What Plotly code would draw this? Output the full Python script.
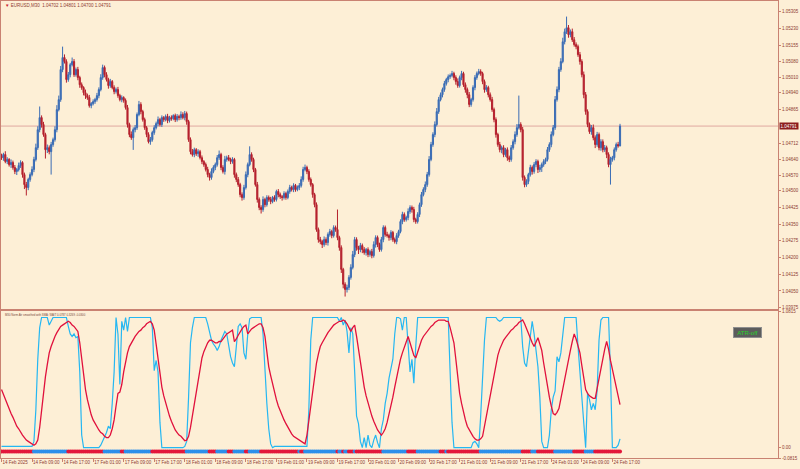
import plotly.graph_objects as go

# ---------------- DATA ----------------
first_open = 1.04655
closes = [
    1.04649, 1.04663, 1.04632, 1.04641, 1.04618, 1.04627, 1.04605, 1.04587, 1.04596, 1.04614, 1.04627, 1.04573, 1.04528, 1.04515, 1.04551, 1.04573, 1.04596, 1.04641, 1.04694, 1.04775, 1.04829, 1.04798, 1.04753, 1.04685, 1.04694,
    1.04676, 1.04708, 1.04730, 1.04775, 1.04865, 1.04910, 1.05045, 1.05099, 1.05081, 1.05000, 1.05022, 1.05067, 1.05081, 1.05022, 1.05045, 1.05009, 1.04977, 1.04964, 1.04941, 1.04928, 1.04919, 1.04883, 1.04892, 1.04901, 1.04910,
    1.04928, 1.04955, 1.05009, 1.05054, 1.05022, 1.05000, 1.04973, 1.04991, 1.04964, 1.04946, 1.04955, 1.04928, 1.04910, 1.04919, 1.04906, 1.04874, 1.04798, 1.04753, 1.04739, 1.04775, 1.04784, 1.04843, 1.04888, 1.04856, 1.04820,
    1.04784, 1.04753, 1.04721, 1.04730, 1.04762, 1.04784, 1.04802, 1.04820, 1.04798, 1.04829, 1.04820, 1.04834, 1.04816, 1.04829, 1.04825, 1.04838, 1.04820, 1.04834, 1.04829, 1.04843, 1.04829, 1.04847, 1.04811, 1.04730, 1.04676,
    1.04663, 1.04685, 1.04667, 1.04676, 1.04649, 1.04632, 1.04618, 1.04596, 1.04573, 1.04560, 1.04587, 1.04605, 1.04618, 1.04649, 1.04663, 1.04605, 1.04587, 1.04641, 1.04649, 1.04641, 1.04632, 1.04641, 1.04573, 1.04551, 1.04528,
    1.04483, 1.04470, 1.04515, 1.04573, 1.04618, 1.04663, 1.04641, 1.04596, 1.04528, 1.04461, 1.04425, 1.04416, 1.04461, 1.04438, 1.04470, 1.04461, 1.04452, 1.04470, 1.04461, 1.04497, 1.04483, 1.04474, 1.04470, 1.04488, 1.04470,
    1.04497, 1.04515, 1.04506, 1.04524, 1.04506, 1.04515, 1.04524, 1.04551, 1.04596, 1.04605, 1.04587, 1.04551, 1.04528, 1.04483, 1.04438, 1.04326, 1.04281, 1.04272, 1.04259, 1.04281, 1.04268, 1.04304, 1.04317, 1.04299, 1.04335,
    1.04326, 1.04290, 1.04245, 1.04147, 1.04080, 1.04057, 1.04066, 1.04111, 1.04156, 1.04214, 1.04281, 1.04245, 1.04236, 1.04254, 1.04236, 1.04223, 1.04236, 1.04214, 1.04227, 1.04209, 1.04259, 1.04290, 1.04259, 1.04236, 1.04281,
    1.04335, 1.04304, 1.04299, 1.04290, 1.04313, 1.04281, 1.04272, 1.04299, 1.04317, 1.04362, 1.04394, 1.04371, 1.04380, 1.04407, 1.04425, 1.04416, 1.04371, 1.04362, 1.04394, 1.04438, 1.04483, 1.04506, 1.04528, 1.04573, 1.04641,
    1.04708, 1.04753, 1.04798, 1.04856, 1.04910, 1.04932, 1.04955, 1.04982, 1.05000, 1.05013, 1.05018, 1.05027, 1.05009, 1.04991, 1.04973, 1.05009, 1.05027, 1.04977, 1.04955, 1.04932, 1.04888, 1.04910, 1.04964, 1.05009, 1.05027,
    1.05036, 1.05027, 1.04991, 1.04955, 1.04964, 1.04932, 1.04910, 1.04865, 1.04820, 1.04753, 1.04708, 1.04685, 1.04694, 1.04663, 1.04685, 1.04649, 1.04641, 1.04694, 1.04721, 1.04753, 1.04784, 1.04798, 1.04775, 1.04560, 1.04528,
    1.04542, 1.04573, 1.04605, 1.04587, 1.04618, 1.04632, 1.04596, 1.04605, 1.04618, 1.04632, 1.04641, 1.04685, 1.04708, 1.04753, 1.04784, 1.04910, 1.04955, 1.05045, 1.05081, 1.05170, 1.05215, 1.05233, 1.05202, 1.05215, 1.05179,
    1.05157, 1.05148, 1.05112, 1.05081, 1.05022, 1.04932, 1.04856, 1.04798, 1.04766, 1.04784, 1.04739, 1.04708, 1.04753, 1.04694, 1.04721, 1.04685, 1.04694, 1.04663, 1.04618, 1.04641, 1.04649, 1.04685, 1.04708, 1.04702, 1.04791,
]
# wick lengths above / below the candle body, in points (0.00001)
wick_up_pts = [
    12, 8, 15, 10, 6, 14, 9, 11, 7, 13, 10, 6, 9, 12, 8, 10, 14, 12, 18, 15, 50, 10, 12, 8, 14,
    10, 12, 9, 15, 20, 18, 16, 49, 14, 10, 12, 8, 18, 11, 9, 12, 8, 10, 6, 14, 9, 12, 7, 10, 8,
    12, 10, 15, 13, 9, 11, 8, 12, 7, 10, 9, 12, 8, 10, 6, 9, 12, 8, 14, 10, 12, 9, 16, 10, 8,
    9, 7, 10, 12, 8, 11, 9, 14, 8, 10, 7, 9, 12, 8, 10, 6, 9, 11, 8, 14, 10, 12, 9, 8, 10,
    12, 9, 7, 11, 8, 10, 6, 9, 12, 8, 14, 10, 9, 12, 18, 8, 10, 16, 9, 12, 8, 10, 7, 9, 11,
    8, 10, 12, 14, 9, 37, 10, 8, 7, 12, 9, 10, 14, 8, 10, 9, 12, 7, 10, 8, 11, 9, 7, 10, 8,
    9, 12, 8, 10, 7, 9, 11, 14, 12, 13, 8, 10, 9, 7, 8, 10, 9, 12, 8, 14, 10, 9, 12, 8, 10,
    9, 90, 8, 10, 7, 9, 12, 10, 14, 16, 12, 10, 8, 12, 9, 11, 7, 10, 8, 12, 14, 10, 9, 8, 12,
    10, 9, 12, 8, 10, 7, 9, 11, 8, 10, 12, 9, 8, 14, 10, 9, 12, 8, 10, 9, 12, 10, 14, 12, 15,
    12, 10, 14, 16, 12, 10, 9, 12, 8, 10, 9, 12, 8, 10, 14, 9, 12, 8, 10, 9, 12, 8, 10, 11, 9,
    12, 10, 8, 9, 11, 8, 10, 12, 9, 10, 8, 12, 9, 11, 8, 10, 9, 12, 10, 14, 16, 130, 10, 12, 9,
    10, 8, 12, 9, 11, 10, 8, 12, 9, 10, 8, 12, 10, 14, 12, 16, 14, 12, 15, 18, 14, 50, 12, 10, 14,
    12, 10, 9, 12, 10, 14, 12, 10, 9, 12, 14, 10, 12, 9, 11, 10, 12, 9, 10, 12, 8, 10, 9, 12, 10,
]
wick_dn_pts = [
    10, 14, 8, 12, 9, 15, 10, 12, 16, 9, 11, 14, 20, 36, 12, 10, 8, 12, 9, 10, 12, 14, 10, 40, 15,
    12, 103, 10, 9, 12, 8, 10, 12, 9, 14, 10, 12, 8, 10, 9, 12, 14, 10, 12, 15, 10, 9, 12, 8, 10,
    9, 12, 8, 10, 12, 9, 14, 10, 8, 12, 9, 10, 8, 12, 10, 9, 14, 12, 10, 55, 12, 10, 8, 12, 9,
    10, 12, 8, 14, 9, 10, 8, 12, 9, 11, 10, 8, 12, 9, 10, 8, 11, 9, 12, 10, 8, 12, 14, 10, 12,
    9, 12, 10, 14, 8, 12, 10, 9, 12, 14, 10, 8, 12, 9, 10, 12, 9, 14, 10, 8, 12, 10, 14, 12, 10,
    12, 14, 10, 9, 12, 8, 10, 12, 9, 14, 12, 18, 10, 12, 9, 10, 12, 8, 10, 9, 12, 10, 14, 9, 10,
    8, 10, 9, 12, 10, 8, 12, 9, 10, 8, 12, 10, 9, 14, 12, 10, 14, 12, 16, 10, 12, 14, 10, 12, 9,
    10, 12, 14, 16, 18, 32, 14, 12, 10, 9, 12, 14, 20, 12, 16, 10, 14, 12, 10, 12, 9, 14, 12, 10, 9,
    12, 10, 9, 14, 12, 10, 9, 12, 10, 8, 12, 10, 9, 12, 10, 14, 12, 10, 9, 12, 10, 8, 12, 10, 9,
    8, 10, 12, 9, 10, 8, 12, 10, 9, 12, 10, 8, 12, 14, 10, 9, 12, 10, 14, 16, 12, 10, 9, 12, 10,
    8, 10, 12, 14, 10, 12, 9, 10, 12, 14, 10, 12, 16, 12, 10, 14, 12, 10, 9, 12, 10, 8, 12, 14, 12,
    10, 12, 9, 14, 10, 12, 16, 12, 20, 10, 12, 9, 10, 12, 8, 10, 9, 12, 10, 8, 12, 10, 14, 12, 10,
    9, 12, 10, 14, 12, 16, 14, 12, 10, 14, 12, 16, 10, 12, 14, 12, 10, 16, 12, 90, 10, 12, 9, 8, 2,
]
# oscillator: fast (light blue) and smoothed (red) lines
osc_fast = [
    0.01, 0.01, 0.01, 0.01, 0.01, 0.01, 0.01, 0.01, 0.01, 0.01, 0.01, 0.01, 0.01, 0.01, 0.01, 0.01, 0.01, 0.05, 0.30, 0.70, 0.95, 1.03, 1.03, 1.03, 1.03,
    0.97, 1.00, 1.03, 1.03, 1.03, 1.03, 1.03, 1.03, 1.03, 1.03, 0.96, 0.90, 0.88, 0.90, 0.87, 0.88, 0.60, 0.10, 0.0, 0.0, 0.0, 0.0, 0.0, 0.0, 0.0,
    0.0, 0.0, 0.02, 0.05, 0.09, 0.12, 0.17, 0.15, 0.35, 0.60, 1.03, 0.90, 0.50, 1.00, 0.93, 1.03, 0.92, 1.03, 1.03, 1.03, 1.03, 1.03, 1.03, 1.03, 1.03,
    1.03, 1.03, 1.03, 1.03, 0.95, 0.61, 0.69, 0.60, 0.20, 0.0, 0.0, 0.0, 0.0, 0.0, 0.0, 0.0, 0.0, 0.0, 0.0, 0.0, 0.0, 0.01, 0.05, 0.40, 0.83,
    0.95, 1.03, 1.03, 1.03, 1.03, 1.03, 1.03, 1.03, 0.98, 0.92, 0.85, 0.82, 0.80, 0.77, 0.80, 0.85, 0.88, 0.92, 0.90, 0.80, 0.72, 0.67, 0.64, 0.80, 0.96,
    0.98, 0.95, 0.75, 0.70, 0.90, 1.02, 1.03, 1.03, 1.03, 1.03, 1.03, 1.03, 0.90, 0.60, 0.35, 0.15, 0.03, 0.0, 0.01, 0.01, 0.01, 0.01, 0.01, 0.01, 0.01,
    0.01, 0.01, 0.01, 0.01, 0.01, 0.01, 0.01, 0.01, 0.01, 0.01, 0.01, 0.30, 0.85, 1.03, 1.03, 1.03, 1.03, 1.03, 1.03, 1.03, 1.03, 1.03, 1.03, 1.03, 1.03,
    1.03, 1.03, 1.00, 1.03, 0.97, 1.01, 0.92, 0.75, 0.95, 0.90, 0.60, 0.25, 0.19, 0.05, 0.0, 0.08, 0.0, 0.10, 0.02, 0.0, 0.06, 0.10, 0.04, 0.0, 0.15,
    0.22, 0.35, 0.43, 0.55, 0.64, 0.70, 0.90, 1.03, 1.03, 1.02, 0.93, 1.03, 1.03, 0.85, 0.60, 0.70, 0.51, 0.80, 1.03, 1.03, 1.03, 1.03, 1.03, 1.03, 1.03,
    1.03, 1.03, 1.03, 1.03, 1.03, 1.03, 1.03, 1.03, 1.03, 1.03, 0.60, 0.20, 0.0, 0.0, 0.0, 0.0, 0.0, 0.0, 0.0, 0.0, 0.0, 0.0, 0.04, 0.05, 0.03,
    0.0, 0.25, 0.55, 0.85, 1.03, 1.03, 1.03, 1.03, 1.03, 1.03, 1.01, 1.00, 1.01, 1.03, 1.03, 1.03, 1.03, 1.03, 1.03, 1.03, 1.03, 1.03, 1.03, 0.80, 0.67,
    0.64, 0.75, 0.88, 1.00, 0.90, 0.75, 0.64, 0.40, 0.05, 0.0, 0.0, 0.0, 0.10, 0.30, 0.40, 0.45, 0.72, 0.68, 0.75, 0.90, 1.03, 1.03, 1.03, 1.03, 1.03,
    1.03, 1.03, 0.80, 0.60, 0.43, 0.20, 0.0, 0.43, 0.38, 0.30, 0.35, 0.30, 0.45, 0.85, 1.01, 1.03, 1.03, 1.03, 1.03, 0.60, 0.0, 0.0, 0.0, 0.02, 0.07,
]
osc_slow = [
    0.46, 0.42, 0.38, 0.34, 0.30, 0.27, 0.24, 0.20, 0.17, 0.15, 0.12, 0.10, 0.08, 0.06, 0.05, 0.04, 0.03, 0.02, 0.03, 0.06, 0.16, 0.30, 0.44, 0.56, 0.66,
    0.75, 0.80, 0.85, 0.88, 0.91, 0.94, 0.96, 0.97, 0.98, 0.99, 1.00, 0.99, 0.97, 0.96, 0.94, 0.92, 0.83, 0.69, 0.56, 0.46, 0.38, 0.31, 0.26, 0.22, 0.19,
    0.16, 0.14, 0.12, 0.11, 0.09, 0.08, 0.08, 0.10, 0.15, 0.22, 0.33, 0.43, 0.44, 0.50, 0.60, 0.69, 0.75, 0.80, 0.83, 0.86, 0.88, 0.90, 0.92, 0.93, 0.95,
    0.96, 0.98, 0.99, 1.00, 0.98, 0.93, 0.82, 0.69, 0.58, 0.48, 0.41, 0.35, 0.30, 0.25, 0.21, 0.17, 0.14, 0.12, 0.10, 0.09, 0.07, 0.055, 0.06, 0.09, 0.16,
    0.25, 0.35, 0.45, 0.55, 0.64, 0.71, 0.76, 0.80, 0.83, 0.85, 0.85, 0.84, 0.83, 0.83, 0.84, 0.84, 0.86, 0.88, 0.90, 0.91, 0.92, 0.93, 0.84, 0.86, 0.89,
    0.92, 0.94, 0.96, 0.97, 0.90, 0.92, 0.94, 0.95, 0.96, 0.97, 0.98, 0.98, 0.95, 0.88, 0.76, 0.64, 0.57, 0.50, 0.43, 0.38, 0.33, 0.29, 0.25, 0.22, 0.19,
    0.16, 0.13, 0.11, 0.09, 0.08, 0.07, 0.06, 0.05, 0.04, 0.03, 0.10, 0.22, 0.35, 0.47, 0.59, 0.67, 0.74, 0.80, 0.83, 0.86, 0.89, 0.91, 0.93, 0.95, 0.97,
    0.98, 0.99, 1.00, 1.00, 1.01, 1.00, 0.98, 0.95, 0.92, 0.95, 0.97, 0.88, 0.77, 0.67, 0.57, 0.48, 0.41, 0.35, 0.30, 0.25, 0.21, 0.17, 0.14, 0.12, 0.10,
    0.12, 0.15, 0.20, 0.26, 0.32, 0.40, 0.48, 0.56, 0.64, 0.70, 0.75, 0.80, 0.84, 0.88, 0.83, 0.77, 0.73, 0.71, 0.76, 0.81, 0.85, 0.88, 0.90, 0.92, 0.94,
    0.96, 0.97, 0.99, 1.00, 1.01, 1.01, 1.01, 1.01, 1.00, 1.00, 0.95, 0.90, 0.83, 0.70, 0.56, 0.43, 0.35, 0.28, 0.22, 0.17, 0.14, 0.11, 0.09, 0.07, 0.06,
    0.06, 0.07, 0.09, 0.17, 0.26, 0.35, 0.44, 0.52, 0.60, 0.67, 0.73, 0.78, 0.82, 0.85, 0.87, 0.89, 0.91, 0.93, 0.94, 0.96, 0.97, 0.99, 1.00, 1.01, 0.98,
    0.94, 0.90, 0.86, 0.83, 0.80, 0.84, 0.87, 0.82, 0.77, 0.67, 0.57, 0.48, 0.40, 0.33, 0.27, 0.26, 0.28, 0.31, 0.39, 0.47, 0.56, 0.63, 0.70, 0.77, 0.84,
    0.90, 0.86, 0.81, 0.75, 0.65, 0.55, 0.46, 0.43, 0.41, 0.40, 0.39, 0.39, 0.47, 0.56, 0.64, 0.72, 0.78, 0.84, 0.78, 0.69, 0.62, 0.55, 0.48, 0.41, 0.34,
]
# signal strip: runs of (state, number of bars)
signal_runs = [
    ("R", 17), ("B", 18), ("R", 19), ("B", 9), ("R", 2), ("B", 14), ("R", 18), ("B", 12),
    ("R", 4), ("B", 6), ("R", 3), ("B", 6), ("R", 2), ("B", 6), ("R", 20), ("B", 1),
    ("R", 2), ("B", 17), ("R", 1), ("B", 2), ("R", 1), ("B", 2), ("R", 3), ("B", 1),
    ("R", 14), ("B", 13), ("R", 5), ("B", 12), ("R", 3), ("B", 1), ("R", 17), ("B", 22),
    ("R", 5), ("B", 3), ("R", 9), ("B", 10), ("R", 6), ("B", 5), ("R", 14),
]
time_tick_bars = [0, 16, 32, 48, 64, 80, 96, 112, 128, 144, 160, 176, 192, 208, 224, 240, 256, 272, 288, 304, 320]
time_tick_labels = ["14 Feb 2025", "14 Feb 09:00", "14 Feb 17:00", "17 Feb 01:00", "17 Feb 09:00", "17 Feb 17:00",
                    "18 Feb 01:00", "18 Feb 09:00", "18 Feb 17:00", "19 Feb 01:00", "19 Feb 09:00", "19 Feb 17:00",
                    "20 Feb 01:00", "20 Feb 09:00", "20 Feb 17:00", "21 Feb 01:00", "21 Feb 09:00", "21 Feb 17:00",
                    "24 Feb 01:00", "24 Feb 09:00", "24 Feb 17:00"]
price_ticks = [1.05305, 1.05230, 1.05155, 1.05080, 1.05010, 1.04940, 1.04865, 1.04712, 1.04640,
               1.04570, 1.04500, 1.04425, 1.04350, 1.04275, 1.04200, 1.04125, 1.04050, 1.03975]
osc_ticks = [1.0815, 0.0, -0.0815]
osc_tick_labels = ["1.0815", "0.00", "-0.0815"]
current_price = 1.04791
header_text = "EURUSD,M30  1.04702 1.04801 1.04700 1.04791"
osc_header_text = "M30 Norm Atr smoothed with SMA: WAIT 0.0787 0.3269 -0.0300"

N = len(closes)
assert len(wick_up_pts) == N and len(wick_dn_pts) == N, (len(wick_up_pts), len(wick_dn_pts), N)
assert len(osc_fast) == N and len(osc_slow) == N, (len(osc_fast), len(osc_slow), N)
bars = list(range(N))
opens = [first_open] + closes[:-1]
highs = [round(max(o, c) + u * 1e-5, 5) for o, c, u in zip(opens, closes, wick_up_pts)]
lows = [round(min(o, c) - d * 1e-5, 5) for o, c, d in zip(opens, closes, wick_dn_pts)]
signal_state = []
for s, n in signal_runs:
    signal_state += [s] * n
assert len(signal_state) == N, len(signal_state)

# ---------------- STYLE ----------------
BG = "#FDEFD6"
FRAME = "#C98272"
LABEL = "#8E3B32"
UP = "#3A6CB5"
DN = "#B5202D"
FONT = "Liberation Sans, Arial, sans-serif"
W, H = 800, 469
X0, X1 = 1, 778
px_per_bar = 1.909
xr = [(X0 - 1.5) / px_per_bar, (X1 - 1.5) / px_per_bar]

def ydom(top_px, bot_px):
    return [1 - bot_px / H, 1 - top_px / H]

fig = go.Figure()
fig.add_trace(go.Candlestick(
    x=bars, open=opens, high=highs, low=lows, close=closes,
    increasing=dict(line=dict(color=UP, width=1), fillcolor=UP),
    decreasing=dict(line=dict(color=DN, width=1), fillcolor=DN),
    whiskerwidth=0, xaxis="x", yaxis="y", showlegend=False, hoverinfo="skip"))
fig.add_trace(go.Scatter(x=bars, y=osc_fast, mode="lines", line=dict(color="#25B7F2", width=1.2),
                         xaxis="x2", yaxis="y2", showlegend=False, hoverinfo="skip"))
fig.add_trace(go.Scatter(x=bars, y=osc_slow, mode="lines", line=dict(color="#E0103C", width=1.3),
                         xaxis="x2", yaxis="y2", showlegend=False, hoverinfo="skip"))
fig.add_trace(go.Scatter(x=bars, y=[-0.03] * N, mode="markers",
                         marker=dict(color=["#E3173C" if s == "R" else "#2C8FEA" for s in signal_state],
                                     size=4, symbol="circle", line=dict(width=0)),
                         xaxis="x2", yaxis="y2", showlegend=False, hoverinfo="skip"))

axis_common = dict(showgrid=False, zeroline=False, showline=True, mirror=True, automargin=False,
                   linecolor=FRAME, linewidth=1, fixedrange=True, tickangle=0)
fig.update_layout(
    template="none",
    width=W, height=H, margin=dict(l=0, r=0, t=0, b=0, pad=0, autoexpand=False),
    paper_bgcolor=BG, plot_bgcolor=BG, font=dict(family=FONT, size=4.5, color=LABEL),
    boxgap=0.15, showlegend=False,
    xaxis=dict(domain=[X0 / W, X1 / W], range=xr, anchor="y", showticklabels=False, ticks="",
               rangeslider=dict(visible=False), **axis_common),
    yaxis=dict(domain=ydom(1, 309), range=[1.03969, 1.05353], anchor="x", side="right",
               tickvals=price_ticks, ticktext=[f"{v:.5f}" for v in price_ticks],
               ticks="outside", ticklen=2, tickcolor=FRAME, tickfont=dict(size=4.5, color=LABEL),
               **axis_common),
    xaxis2=dict(domain=[X0 / W, X1 / W], range=xr, anchor="y2",
                tickvals=time_tick_bars, ticktext=time_tick_labels, ticks="outside", ticklen=3,
                tickcolor=FRAME, ticklabelposition="outside right",
                tickfont=dict(size=4.5, color=LABEL), **axis_common),
    yaxis2=dict(domain=ydom(311, 458), range=[-0.0815, 1.0815], anchor="x2", side="right",
                tickvals=osc_ticks, ticktext=osc_tick_labels, ticks="outside", ticklen=2,
                tickcolor=FRAME, tickfont=dict(size=4.5, color=LABEL), **axis_common),
)

# current price line and label
fig.add_shape(type="line", xref="x domain", x0=0, x1=1, yref="y", y0=current_price, y1=current_price,
              line=dict(color="#E0A9A0", width=1), layer="below")
fig.add_annotation(xref="paper", x=779 / W, xanchor="left", yref="y", y=current_price, yanchor="middle",
                   text=f"{current_price:.5f}", showarrow=False, bgcolor="#8C1D1D", borderpad=0.6,
                   font=dict(size=4.5, color="#FFFFFF"))
# headers
fig.add_annotation(xref="paper", x=3 / W, xanchor="left", yref="paper", y=1 - 5 / H, yanchor="middle",
                   text=f'<span style="color:#C8182C">▼</span> {header_text}', showarrow=False,
                   font=dict(size=4.5, color=LABEL))
fig.add_annotation(xref="paper", x=3 / W, xanchor="left", yref="paper", y=1 - 314.5 / H, yanchor="middle",
                   text=osc_header_text, showarrow=False, font=dict(size=2.8, color="#7A4A40"))
# ATR-off button
fig.add_annotation(xref="paper", x=747 / W, xanchor="center", yref="paper", y=1 - 332.3 / H, yanchor="middle",
                   text="ATR-off", showarrow=False, width=26, height=8, bgcolor="#5C5C5C",
                   bordercolor="#8E8E8E", borderwidth=1, borderpad=0.5,
                   font=dict(size=6, color="#27D327"))

fig.write_html("out.html",
               config={"displayModeBar": False, "staticPlot": True},
               post_script="document.body.style.margin='0';document.body.style.padding='0';"
                           "document.body.style.background='" + BG + "';")
